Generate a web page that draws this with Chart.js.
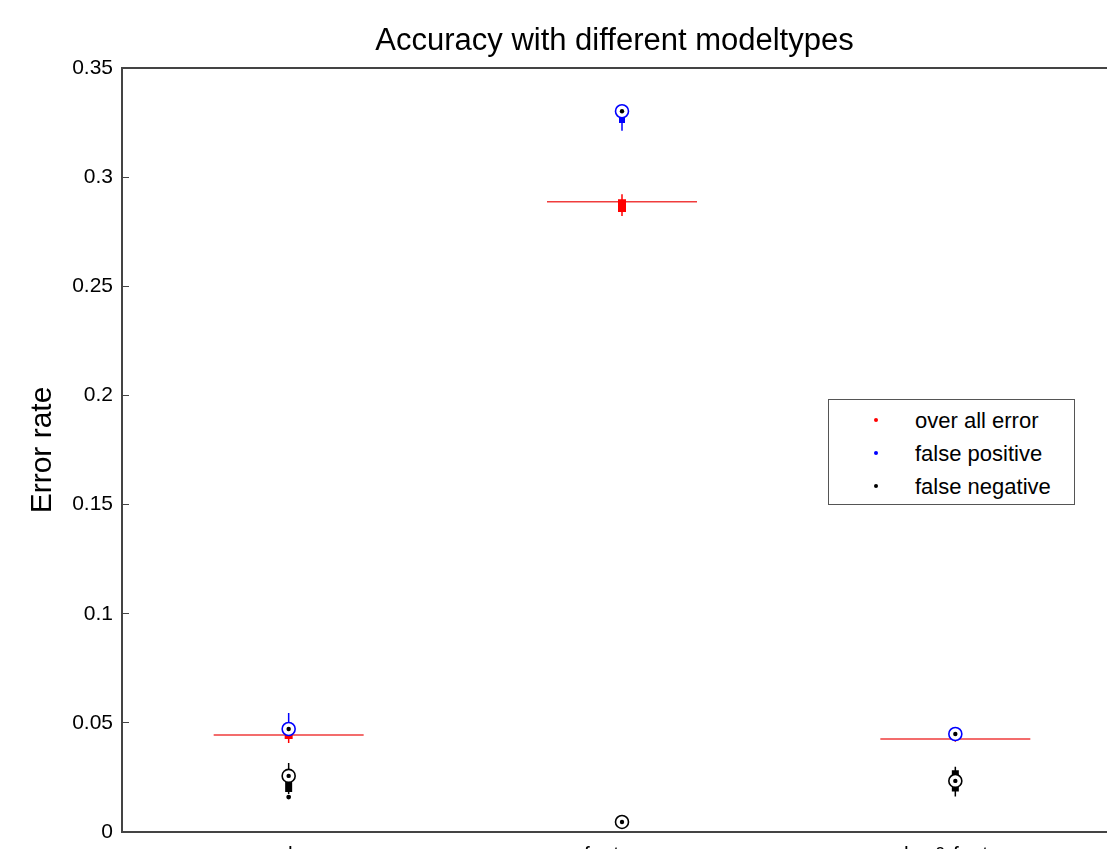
<!DOCTYPE html>
<html>
<head>
<meta charset="utf-8">
<script src="https://cdn.jsdelivr.net/npm/chart.js@4.4.1/dist/chart.umd.min.js"></script>
<style>
  html, body { margin: 0; padding: 0; background: #fff; }
  #wrap { position: relative; width: 1107px; height: 849px; overflow: hidden; }
  #legend {
    position: absolute; left: 828px; top: 399px; width: 245px; height: 104px;
    border: 1px solid #555; background: #fff;
    font-family: "Liberation Sans", Arial, Helvetica, sans-serif; font-size: 22px; color: #000;
  }
  .row { position: absolute; left: 0; height: 33px; line-height: 33px; width: 100%; }
  .dot { position: absolute; left: 45px; top: 14px; width: 4px; height: 4px; border-radius: 50%; }
  .lbl { position: absolute; left: 86px; top: 0; white-space: nowrap; }
</style>
</head>
<body>
<div id="wrap">
  <canvas id="c" width="1107" height="849"></canvas>
  <div id="legend"></div>
</div>
<script>
// ---- data ----
const categories = ['color', 'features', 'color & features'];
const yTickLabels = ['0', '0.05', '0.1', '0.15', '0.2', '0.25', '0.3', '0.35'];
const seriesNames = ['over all error', 'false positive', 'false negative'];

// over all error (red)
const overallMeanLine    = [0.0444, 0.2887, 0.0426];
const overallWhiskerLow  = [0.0408, 0.2822, 0.0414];
const overallQ1          = [0.0426, 0.2840, 0.0424];
const overallQ3          = [0.0447, 0.2899, 0.0430];
const overallWhiskerHigh = [0.0458, 0.2922, 0.0436];

// false positive (blue)
const fpWhiskerLow  = [0.0450, 0.3212, 0.0432];
const fpQ1          = [0.0455, 0.3248, 0.0440];
const fpMedian      = [0.0472, 0.3302, 0.0449];
const fpQ3          = [0.0500, 0.3300, 0.0460];
const fpWhiskerHigh = [0.0545, 0.3310, 0.0466];

// false negative (black)
const fnWhiskerLow  = [0.0174, 0.0036, 0.0163];
const fnQ1          = [0.0183, 0.0040, 0.0186];
const fnMedian      = [0.0257, 0.0046, 0.0234];
const fnQ3          = [0.0266, 0.0052, 0.0283];
const fnWhiskerHigh = [0.0316, 0.0056, 0.0299];
const fnOutliers    = [[0.0160], [], []];

const RED = '#ff0000', RED_LINE = 'rgb(240,60,60)', BLUE = '#0000ff', BLACK = '#000000';
const meanHalfWidth = 0.225;

// ---- helpers building library datasets from the arrays ----
function segments(lo, hi) {
  const pts = [];
  lo.forEach((v, i) => {
    pts.push({ x: i + 1, y: v }, { x: i + 1, y: hi[i] }, { x: i + 1, y: null });
  });
  return pts;
}
function hsegments(vals) {
  const pts = [];
  vals.forEach((v, i) => {
    pts.push({ x: i + 1 - meanHalfWidth, y: v }, { x: i + 1 + meanHalfWidth, y: v }, { x: i + 1, y: null });
  });
  return pts;
}
function points(vals) { return vals.map((v, i) => ({ x: i + 1, y: v })); }
function lineDs(data, color, width, order) {
  return { type: 'line', data, showLine: true, borderColor: color, borderWidth: width,
    borderCapStyle: 'butt', pointRadius: 0, spanGaps: false, order, fill: false };
}
function circleDs(data, color, order) {
  return { type: 'scatter', data, pointStyle: 'circle', pointRadius: 6.5, pointBorderWidth: 1.6,
    pointBorderColor: color, pointBackgroundColor: '#fff', order };
}
function dotDs(data, order, r) {
  return { type: 'scatter', data, pointStyle: 'circle', pointRadius: r || 2.2, pointBorderWidth: 0,
    pointBackgroundColor: BLACK, pointBorderColor: BLACK, order };
}

const outlierPts = [];
fnOutliers.forEach((arr, i) => arr.forEach(v => outlierPts.push({ x: i + 1, y: v })));

const datasets = [
  lineDs(hsegments(overallMeanLine), RED_LINE, 1.5, 100),
  lineDs(segments(overallWhiskerLow, overallWhiskerHigh), RED, 1.5, 90),
  lineDs(segments(overallQ1, overallQ3), RED, 8, 89),
  lineDs(segments(fpWhiskerLow, fpWhiskerHigh), BLUE, 1.5, 80),
  lineDs(segments(fpQ1, fpQ3), BLUE, 6, 79),
  circleDs(points(fpMedian), BLUE, 78),
  dotDs(points(fpMedian), 77),
  lineDs(segments(fnWhiskerLow, fnWhiskerHigh), BLACK, 1.5, 70),
  lineDs(segments(fnQ1, fnQ3), BLACK, 7, 69),
  circleDs(points(fnMedian), BLACK, 68),
  dotDs(points(fnMedian), 67),
  dotDs(outlierPts, 66, 2.4)
];

const FONT = '"Liberation Sans", Arial, Helvetica, sans-serif';
const AXIS = '#444';
function noPad(s) { s.paddingLeft = 0; s.paddingRight = 0; s.paddingTop = 0; s.paddingBottom = 0; }

new Chart(document.getElementById('c'), {
  type: 'scatter',
  data: { datasets },
  options: {
    responsive: false,
    animation: false,
    devicePixelRatio: 1,
    layout: { padding: 0, autoPadding: false },
    plugins: {
      legend: { display: false },
      tooltip: { enabled: false },
      title: {
        display: true,
        fullSize: false,
        text: 'Accuracy with different modeltypes',
        color: '#000',
        font: { family: FONT, size: 31, weight: 'normal' },
        padding: { top: 23, bottom: 7.8 }
      }
    },
    scales: {
      x: {
        type: 'linear', position: 'bottom', min: 0.5, max: 3.455,
        afterBuildTicks: s => { s.ticks = categories.map((c, i) => ({ value: i + 1 })); },
        afterFit: s => { s.height = 17; noPad(s); },
        ticks: {
          callback: v => categories[v - 1] || '',
          color: '#000', font: { family: FONT, size: 21 }, padding: 11,
          autoSkip: false, maxRotation: 0
        },
        grid: { display: false, drawTicks: false },
        border: { display: true, color: AXIS, width: 2 }
      },
      x2: {
        type: 'linear', position: 'top', min: 0.5, max: 3.455,
        afterFit: s => { s.height = 0; noPad(s); },
        ticks: { display: false },
        grid: { display: false, drawTicks: false },
        border: { display: true, color: AXIS, width: 2 }
      },
      y: {
        type: 'linear', position: 'left', min: 0, max: 0.35,
        afterFit: s => { s.width = 122; noPad(s); },
        ticks: {
          stepSize: 0.05,
          callback: (v, i) => yTickLabels[i],
          color: '#000', font: { family: FONT, size: 21 }, padding: 16
        },
        grid: { drawOnChartArea: false, drawTicks: true, tickLength: -7, color: AXIS, lineWidth: 1 },
        border: { display: true, color: AXIS, width: 2 },
        title: {
          display: true, text: 'Error rate', color: '#000',
          font: { family: FONT, size: 30, weight: 'normal' },
          padding: { top: 25, bottom: 0 }
        }
      }
    }
  }
});

// legend (HTML, real text)
const legendColors = [RED, BLUE, BLACK];
const leg = document.getElementById('legend');
seriesNames.forEach((name, i) => {
  const row = document.createElement('div');
  row.className = 'row';
  row.style.top = (4 + i * 33) + 'px';
  row.innerHTML = '<span class="dot" style="background:' + legendColors[i] + '"></span><span class="lbl">' + name + '</span>';
  leg.appendChild(row);
});
</script>
</body>
</html>
